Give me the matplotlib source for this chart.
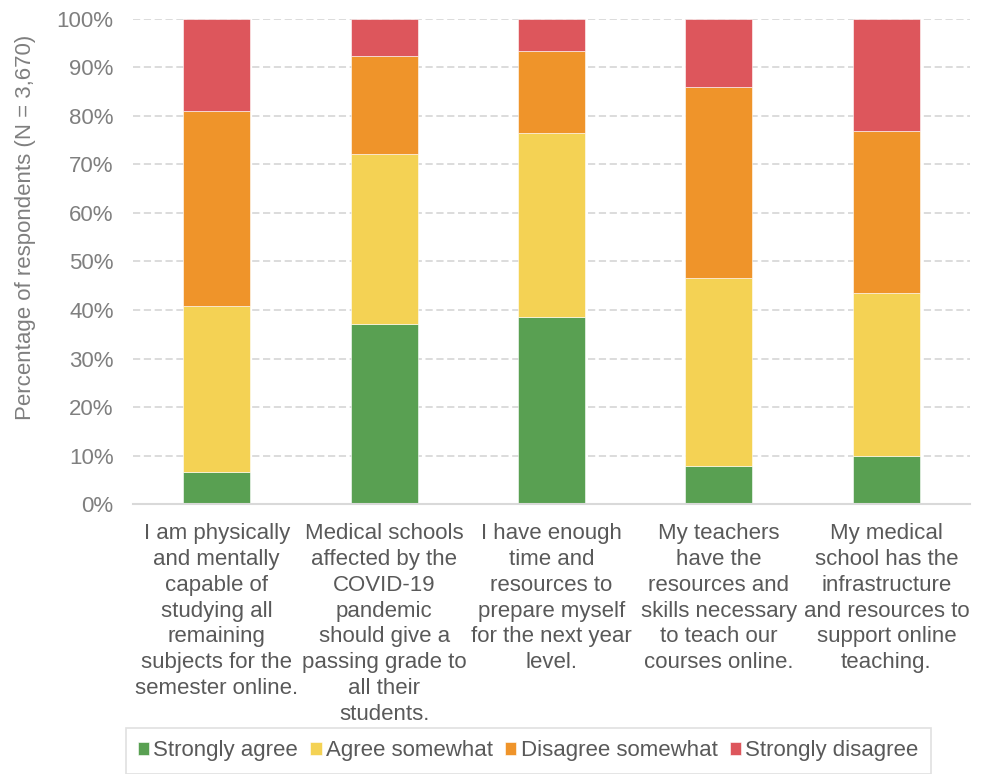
import matplotlib
matplotlib.use("Agg")
import matplotlib.pyplot as plt
import numpy as np

categories = [
    "I am physically\nand mentally\ncapable of\nstudying all\nremaining\nsubjects for the\nsemester online.",
    "Medical schools\naffected by the\nCOVID-19\npandemic\nshould give a\npassing grade to\nall their\nstudents.",
    "I have enough\ntime and\nresources to\nprepare myself\nfor the next year\nlevel.",
    "My teachers\nhave the\nresources and\nskills necessary\nto teach our\ncourses online.",
    "My medical\nschool has the\ninfrastructure\nand resources to\nsupport online\nteaching.",
]
series_names = ["Strongly agree", "Agree somewhat", "Disagree somewhat", "Strongly disagree"]
strongly_agree = [6.7, 37.1, 38.5, 7.9, 10.0]
agree_somewhat = [34.1, 35.0, 38.0, 38.8, 33.5]
disagree_somewhat = [40.2, 20.3, 16.8, 39.3, 33.4]
strongly_disagree = [19.0, 7.6, 6.7, 14.0, 23.1]
colors = ["#59A052", "#F4D254", "#EF942A", "#DD565C"]
yticks = [0, 10, 20, 30, 40, 50, 60, 70, 80, 90, 100]

plt.rcParams['font.family'] = ['Liberation Sans', 'DejaVu Sans']

fig = plt.figure(figsize=(9.82, 7.74), dpi=100)
ax = fig.add_axes([0.1354, 0.3488, 0.8524, 0.6267])

x = np.arange(len(categories))
bottom = np.zeros(len(categories))
handles = []
for name, vals, c in zip(series_names, [strongly_agree, agree_somewhat, disagree_somewhat, strongly_disagree], colors):
    b = ax.bar(x, vals, bottom=bottom, width=0.40, color=c, label=name, zorder=3,
               edgecolor='white', linewidth=0.4)
    handles.append(b)
    bottom += np.array(vals)

ax.set_xlim(-0.5, len(categories) - 0.5)
ax.set_ylim(0, 100)
ax.set_yticks(yticks)
ax.set_yticklabels([f"{t}%" for t in yticks], color="#7f7f7f", fontsize=16)
ax.set_xticks(x)
ax.set_xticklabels(categories, color="#595959", fontsize=16, linespacing=1.295, va='top')
ax.tick_params(axis='both', length=0)
ax.tick_params(axis='x', pad=14)
ax.tick_params(axis='y', pad=14)
ax.yaxis.grid(True, linestyle=(0, (4, 2)), color="#d9d9d9", linewidth=1.3, zorder=0)
for s in ['top', 'right', 'left']:
    ax.spines[s].set_visible(False)
ax.spines['bottom'].set_color("#d9d9d9")
ax.spines['bottom'].set_linewidth(1.5)
ax.spines['bottom'].set_zorder(4)
ax.set_ylabel("Percentage of respondents (N = 3,670)", color="#7f7f7f", fontsize=16)
ax.yaxis.set_label_coords(-0.116, 0.571)

leg = fig.legend(handles=handles, labels=series_names, loc='center', ncol=4,
                 bbox_to_anchor=(0.538, 0.030), fontsize=16, frameon=True, fancybox=False,
                 edgecolor="#d9d9d9", handlelength=0.5, handleheight=0.5, handletextpad=0.2,
                 columnspacing=0.55, borderpad=0.55)
for t in leg.get_texts():
    t.set_color("#595959")
leg.get_frame().set_linewidth(1.2)

fig.savefig("out.png", dpi=100)
